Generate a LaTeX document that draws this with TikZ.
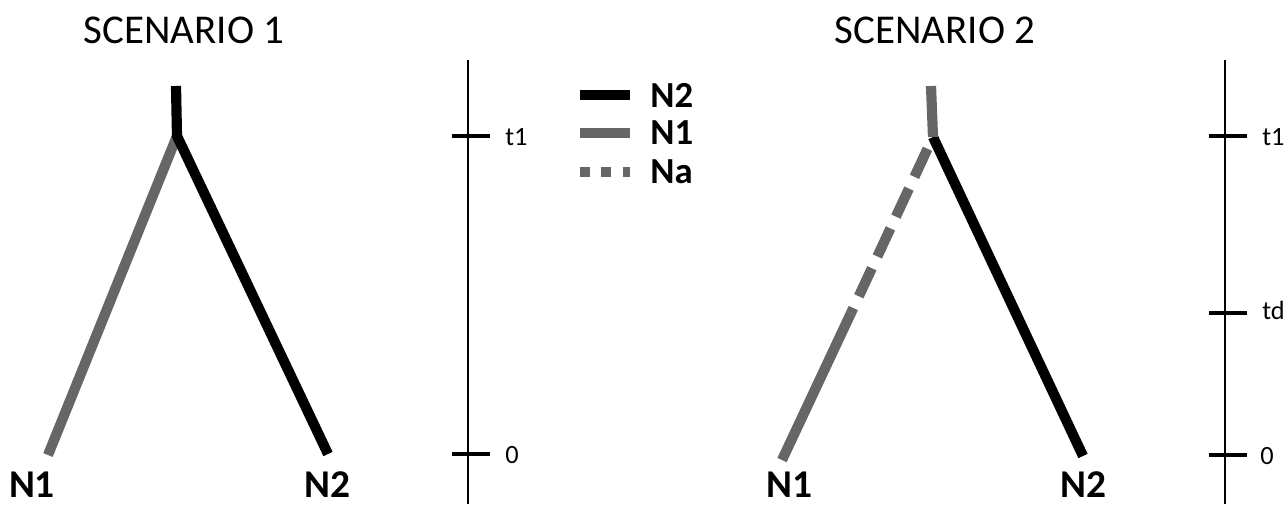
\documentclass[tikz,border=0pt]{standalone}
\usepackage{fontspec}
\setmainfont{Carlito}
\usetikzlibrary{arrows}
\definecolor{popgray}{RGB}{102,102,102}

\begin{document}
\begin{tikzpicture}[x=0.02cm,y=-0.02cm]
	\tikzstyle{branch}=[line width=5.8pt]
	\tikzstyle{ancestral}=[branch,popgray,dash pattern=on 17.6pt off 7.4pt,dash phase=17.6pt]
	\tikzstyle{axis}=[line width=1.1pt]
	\tikzstyle{tickmark}=[line width=2.8pt]
	\tikzstyle{title}=[font=\fontsize{23.3}{28}\selectfont]
	\tikzstyle{pop}=[font=\fontsize{22.4}{27}\selectfont\bfseries,inner sep=0pt]
	\tikzstyle{legend}=[font=\fontsize{20.9}{25}\selectfont\bfseries,anchor=west,inner sep=0pt]
	\tikzstyle{time}=[font=\fontsize{15}{18}\selectfont,anchor=west,inner sep=0pt]
	\useasboundingbox (0,0) rectangle (1285,504);

	% scenario 1
	\node[title] (s1) at (184,30) {SCENARIO 1};
	\coordinate (r1) at (176,86);
	\coordinate (j1) at (177,136);
	\coordinate (a1) at (48,455);
	\coordinate (b1) at (328,454);
	\draw[branch,popgray] (j1) -- (a1);
	\draw[branch] (r1) -- (j1) -- (b1);
	\node[pop] (n1a) at (32,485) {N1};
	\node[pop] (n2a) at (327,485) {N2};

	% time axis 1
	\coordinate (top1) at (468,60);
	\coordinate (bot1) at (468,504);
	\draw[axis] (top1) -- (bot1);
	\coordinate (u1a) at (452,136);
	\coordinate (u1b) at (490,136);
	\coordinate (z1a) at (452,454);
	\coordinate (z1b) at (490,454);
	\draw[tickmark] (u1a) -- (u1b);
	\draw[tickmark] (z1a) -- (z1b);
	\node[time] (t1a) at (505,137) {t1};
	\node[time] (t0a) at (505,455) {0};

	% legend
	\coordinate (k1a) at (580,95);
	\coordinate (k1b) at (630,95);
	\coordinate (k2a) at (580,133);
	\coordinate (k2b) at (630,133);
	\coordinate (k3a) at (580,172);
	\coordinate (k3b) at (630,172);
	\draw[branch] (k1a) -- (k1b);
	\draw[branch,popgray] (k2a) -- (k2b);
	\draw[branch,popgray,dash pattern=on 5.7pt off 6.5pt] (k3a) -- (k3b);
	\node[legend] (k1) at (650,95) {N2};
	\node[legend] (k2) at (650,133) {N1};
	\node[legend] (k3) at (650,172) {Na};

	% scenario 2
	\node[title] (s2) at (935,30) {SCENARIO 2};
	\coordinate (r2) at (931,86);
	\coordinate (j2) at (933,137);
	\coordinate (d2) at (851,313);
	\coordinate (a2) at (782,460);
	\coordinate (b2) at (1083,456);
	\draw[branch] (j2) -- (b2);
	\draw[branch,popgray] (r2) -- (j2);
	\draw[ancestral] (j2) -- (d2);
	\draw[branch,popgray] (d2) -- (a2);
	\node[pop] (n1b) at (789,485) {N1};
	\node[pop] (n2b) at (1083,485) {N2};

	% time axis 2
	\coordinate (top2) at (1225,60);
	\coordinate (bot2) at (1225,504);
	\draw[axis] (top2) -- (bot2);
	\coordinate (u2a) at (1209,136);
	\coordinate (u2b) at (1247,136);
	\coordinate (v2a) at (1209,313);
	\coordinate (v2b) at (1247,313);
	\coordinate (z2a) at (1209,455);
	\coordinate (z2b) at (1247,455);
	\draw[tickmark] (u2a) -- (u2b);
	\draw[tickmark] (v2a) -- (v2b);
	\draw[tickmark] (z2a) -- (z2b);
	\node[time] (t1b) at (1262,137) {t1};
	\node[time] (tdb) at (1262,310) {td};
	\node[time] (t0b) at (1260,456) {0};
\end{tikzpicture}
\end{document}
